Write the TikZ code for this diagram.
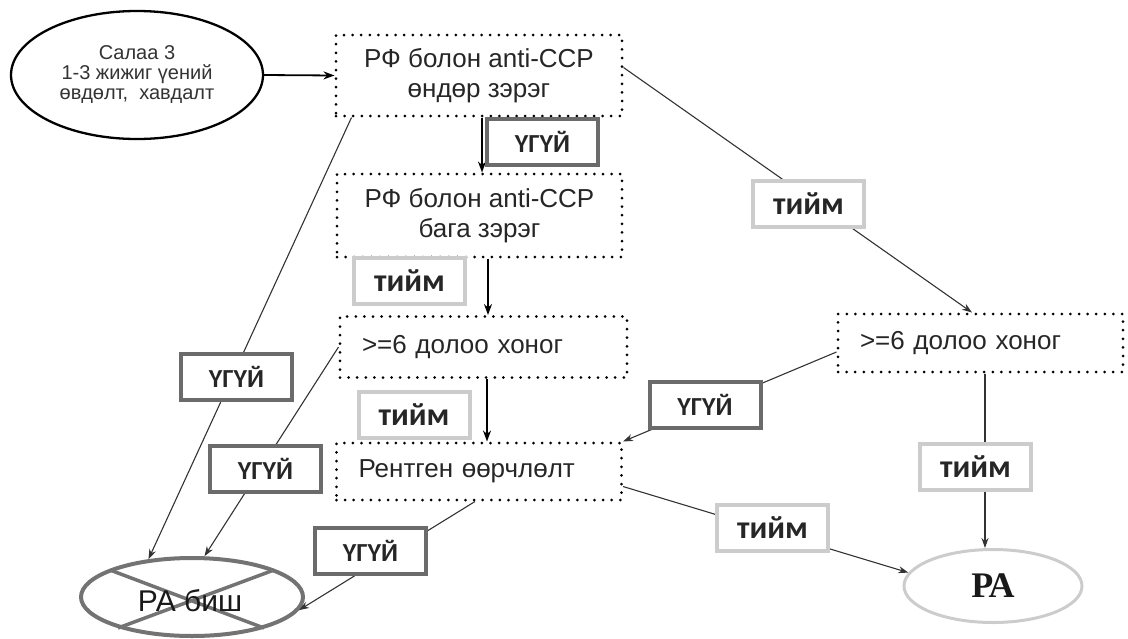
\documentclass[tikz,border=0pt]{standalone}
\usepackage{fontspec}
\setmainfont{Liberation Sans}
\newfontfamily\lblfont{Carlito}
\newfontfamily\paserif{Liberation Serif}
\usetikzlibrary{shapes.geometric,arrows.meta}
\tikzset{
  dotbox/.style={rectangle, draw=black, line width=3pt, dash pattern=on 0pt off 8.6pt,
    line cap=round, inner sep=0pt, text=black!85, font=\fontsize{26}{30}\selectfont},
  lbox/.style={dotbox, align=left, inner xsep=22pt},
  nolbl/.style={rectangle, draw=black!58, line width=4pt, fill=white, minimum width=111pt,
    minimum height=46pt, inner sep=0pt, text=black!85, font=\lblfont\bfseries\fontsize{26}{26}\selectfont},
  yeslbl/.style={rectangle, draw=black!20, line width=4pt, fill=white, minimum width=111pt,
    minimum height=46pt, inner sep=0pt, text=black!85, font=\lblfont\bfseries\fontsize{32}{32}\selectfont},
  conn/.style={draw=black!80, line width=1.1pt, -{Stealth[length=10pt,width=7pt]}},
  vconn/.style={draw=black, line width=1.8pt, -{Stealth[length=11pt,width=8pt]}},
}
\begin{document}
\begin{tikzpicture}[x=1pt,y=-1pt]
\useasboundingbox (0,0) rectangle (1128,638);
% main nodes
\node[ellipse, draw=black, line width=2.3pt, minimum width=252pt, minimum height=128pt, inner sep=0pt,
  align=center, text=black!80, font=\fontsize{20}{20}\selectfont] (e0) at (137,75)
  {Салаа 3\\1-3 жижиг үений\\өвдөлт,\ \ хавдалт};
\node[dotbox, minimum width=286pt, minimum height=81pt, align=center] (b1) at (479,75.5)
  {РФ болон anti-CCP\\өндөр зэрэг};
\node[dotbox, minimum width=285pt, minimum height=83pt, align=center] (b2) at (479.5,215.5)
  {РФ болон anti-CCP\\бага зэрэг};
\node[lbox, text width=243pt, minimum height=61pt] (b3) at (483.5,347) {>=6 долоо хоног};
\node[lbox, text width=241pt, minimum height=57pt] (b4) at (479,471.5) {Рентген өөрчлөлт};
\node[lbox, text width=241pt, minimum height=58pt] (b5) at (980.5,343) {>=6 долоо хоног};
\node[ellipse, draw=black!55, line width=4pt, minimum width=222pt, minimum height=78pt, inner sep=0pt] (rn) at (192,597) {};
\draw[black!55, line width=3.5pt]
  ([xshift=-82pt,yshift=27pt]rn.center) -- ([xshift=72pt,yshift=-31pt]rn.center)
  ([xshift=-74pt,yshift=-31pt]rn.center) -- ([xshift=82pt,yshift=27pt]rn.center);
\node[text=black!90, font=\fontsize{30}{30}\selectfont] (rntext) at (190,601) {РА биш};
\node[ellipse, draw=black!20, line width=3pt, minimum width=178pt, minimum height=73pt, inner sep=0pt,
  text=black!90, font=\paserif\bfseries\fontsize{36}{36}\selectfont] (ra) at (993,586) {РА};
% connectors
\draw[vconn] (e0.east) -- (b1.west);
\draw[vconn] ([xshift=3pt]b1.south) -- ([xshift=2.5pt]b2.north);
\draw[vconn] ([xshift=8.5pt]b2.south) -- ([xshift=4.5pt]b3.north);
\draw[vconn] ([xshift=3.5pt]b3.south) -- ([xshift=8pt]b4.north);
\draw[conn] ([xshift=17pt]b1.south west) -- (rn.139);
\draw[conn] (b3.west) -- (rn.73);
\draw[conn] ([xshift=-4pt]b4.south) -- (rn.-7);
\draw[conn] ([yshift=8pt]b1.east) -- ([xshift=-8.5pt]b5.north);
\draw[conn] ([yshift=-9pt]b5.west) -- (b4.north east);
\draw[conn] ([yshift=-15pt]b4.east) -- (ra.171);
\draw[conn] ([xshift=4.5pt]b5.south) -- ([xshift=-8pt]ra.north);
% labels
\node[nolbl] (n1) at (542.5,141.5) {ҮГҮЙ};
\node[yeslbl] (y1) at (409.5,280.5) {тийм};
\node[yeslbl] (y2) at (414,415) {тийм};
\node[nolbl] (nl1) at (236.5,377) {ҮГҮЙ};
\node[nolbl] (nl2) at (265.5,469) {ҮГҮЙ};
\node[nolbl] (nl3) at (370.5,551) {ҮГҮЙ};
\node[yeslbl] (yr1) at (808.5,204) {тийм};
\node[nolbl] (nr) at (705,405) {ҮГҮЙ};
\node[yeslbl] (yr2) at (975.5,467) {тийм};
\node[yeslbl] (yr3) at (772.5,527.5) {тийм};
\end{tikzpicture}
\end{document}
